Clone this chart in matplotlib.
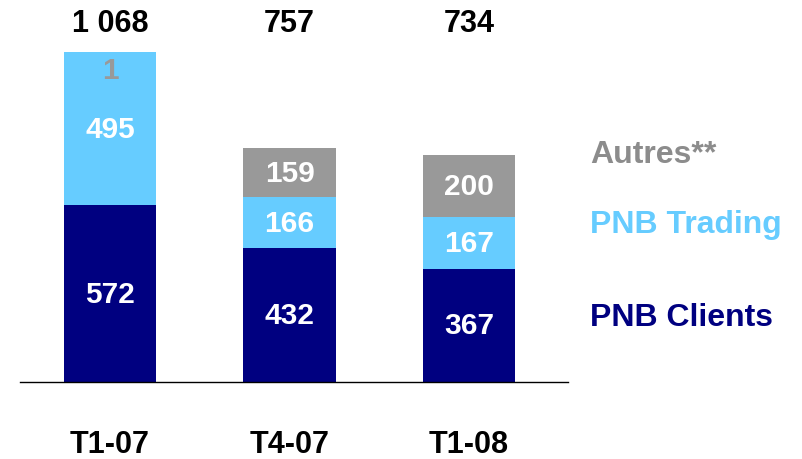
import matplotlib.pyplot as plt
import numpy as np

plt.rcParams["font.family"] = ["Liberation Sans", "DejaVu Sans"]
plt.rcParams["font.weight"] = "bold"

# ---------------------------------------------------------
# DATA
# ---------------------------------------------------------

periods = ["T1-07", "T4-07", "T1-08"]
pnb_clients = [572, 432, 367]
pnb_trading = [495, 166, 167]
autres = [1, 159, 200]
totals = ["1 068", "757", "734"]

series_names = ["PNB Clients", "PNB Trading", "Autres**"]

NAVY = "#000080"
LIGHT = "#66CCFF"
GREY = "#999999"

# ---------------------------------------------------------
# PLOT
# ---------------------------------------------------------

fig = plt.figure(figsize=(8.02, 4.6), dpi=100)
ax = fig.add_axes([20 / 802, 77 / 460, 548 / 802, 383 / 460])

x = np.arange(len(periods))
width = 0.513

clients = np.array(pnb_clients)
trading = np.array(pnb_trading)
other = np.array(autres)

ax.bar(x, clients, width, color=NAVY)
ax.bar(x, trading, width, bottom=clients, color=LIGHT)
ax.bar(x, other, width, bottom=clients + trading, color=GREY)

ax.set_xlim(-0.501, 2.551)
ax.set_ylim(0, 1239)

LABEL_SIZE = 21.5

# values inside the segments
for i in range(len(periods)):
    ax.text(x[i], clients[i] / 2, str(clients[i]), ha="center", va="center",
            color="white", fontsize=LABEL_SIZE, fontweight="bold")
    ax.text(x[i], clients[i] + trading[i] / 2, str(trading[i]), ha="center",
            va="center", color="white", fontsize=LABEL_SIZE, fontweight="bold")
    top = clients[i] + trading[i] + other[i]
    if other[i] < 40:
        # too thin to hold its label: write it in grey just under the top
        ax.text(x[i], top - 60, str(other[i]), ha="center", va="center",
                color=GREY, fontsize=LABEL_SIZE, fontweight="bold")
    else:
        ax.text(x[i], top - other[i] / 2, str(other[i]), ha="center",
                va="center", color="white", fontsize=LABEL_SIZE, fontweight="bold")
    # total above the chart
    ax.text(x[i], 1160, totals[i], ha="center", va="center", color="black",
            fontsize=22, fontweight="bold")

ax.set_xticks(x)
ax.set_xticklabels(periods, fontsize=22, fontweight="bold")
ax.tick_params(axis="x", length=0, pad=34)
ax.set_yticks([])

for s in ["top", "right", "left"]:
    ax.spines[s].set_visible(False)
ax.spines["bottom"].set_linewidth(1.0)

# legend as coloured text on the right
fig.text(590 / 802, 1 - 155 / 460, series_names[2], color="#8C8C8C",
         fontsize=23, fontweight="bold", va="center")
fig.text(590 / 802, 1 - 225 / 460, series_names[1], color=LIGHT,
         fontsize=23, fontweight="bold", va="center")
fig.text(590 / 802, 1 - 318 / 460, series_names[0], color=NAVY,
         fontsize=23, fontweight="bold", va="center")

fig.savefig("out.png", dpi=100)
